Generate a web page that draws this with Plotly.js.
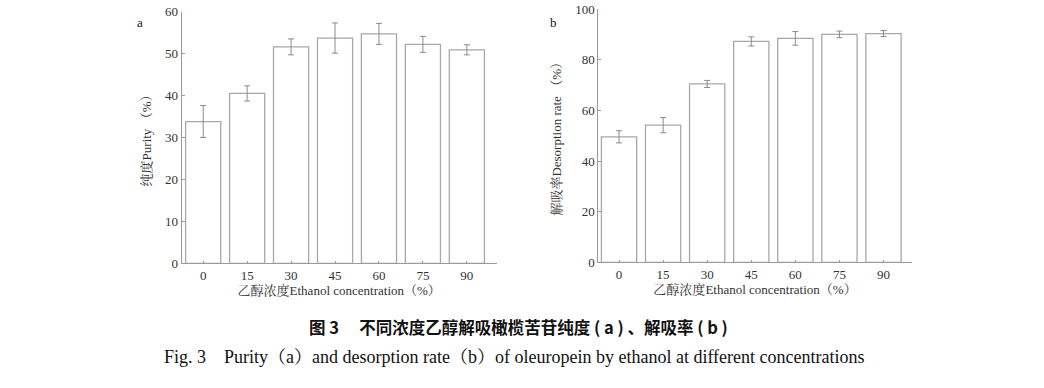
<!DOCTYPE html>
<html>
<head>
<meta charset="utf-8">
<script src="https://cdn.plot.ly/plotly-3.0.1.min.js"></script>
<style>html,body{margin:0;padding:0;background:#fff;}#chart{width:1044px;height:388px;}</style>
</head>
<body>
<div id="chart"></div>
<script>
const categories = ['0', '15', '30', '45', '60', '75', '90'];
const purity = [33.8, 40.5, 51.6, 53.7, 54.7, 52.2, 50.9];
const purityErr = [3.8, 1.8, 1.9, 3.6, 2.5, 1.9, 1.2];
const desorption = [49.6, 54.2, 70.5, 87.3, 88.5, 90.1, 90.4];
const desorptionErr = [2.4, 3.0, 1.4, 1.8, 2.7, 1.3, 1.2];

const FONT = 'Liberation Serif, Noto Serif CJK SC, Noto Sans CJK SC, serif';
const lineCol = '#9a9a9a';
const textCol = '#333333';

function barTrace(y, err, xa, ya) {
  return {
    type: 'bar', x: categories, y: y, xaxis: xa, yaxis: ya,
    width: 0.8,
    marker: {color: '#ffffff', line: {color: '#a8a8a8', width: 1.3}},
    error_y: {type: 'data', array: err, visible: true, color: '#8a8a8a', thickness: 1, width: 3},
    showlegend: false, hoverinfo: 'skip'
  };
}

const axisCommon = {
  showgrid: false, zeroline: false, showline: true, linecolor: lineCol, linewidth: 1,
  ticks: 'inside', ticklen: 3, tickcolor: lineCol,
  tickfont: {family: 'Liberation Serif, serif', size: 13, color: textCol}
};

const latin = s => '<span style="font-family:Liberation Serif">' + s + '</span>';
const xTitle = '乙醇浓度' + latin('Ethanol concentration') + '（%）';

const data = [
  barTrace(purity, purityErr, 'x', 'y'),
  barTrace(desorption, desorptionErr, 'x2', 'y2')
];

const layout = {
  width: 1044, height: 388,
  margin: {l: 0, r: 0, t: 0, b: 0},
  paper_bgcolor: '#ffffff', plot_bgcolor: '#ffffff',
  font: {family: FONT, color: textCol},
  xaxis: Object.assign({}, axisCommon, {
    domain: [0.174, 0.4758], anchor: 'y', type: 'category', range: [-0.49, 6.68],
    ticklen: 2,
    title: {text: xTitle, font: {family: FONT, size: 13, color: textCol}, standoff: 3}
  }),
  yaxis: Object.assign({}, axisCommon, {
    domain: [0.3214, 0.970], anchor: 'x', range: [0, 60], tickvals: [0, 10, 20, 30, 40, 50, 60],
    title: {text: '纯度' + latin('Purity') + ' （%）', font: {family: FONT, size: 13, color: textCol}, standoff: 10}
  }),
  xaxis2: Object.assign({}, axisCommon, {
    domain: [0.5731, 0.8733], anchor: 'y2', type: 'category', range: [-0.47, 6.64],
    ticklen: 2,
    title: {text: xTitle, font: {family: FONT, size: 13, color: textCol}, standoff: 3}
  }),
  yaxis2: Object.assign({}, axisCommon, {
    domain: [0.324, 0.976], anchor: 'x2', range: [0, 100], tickvals: [0, 20, 40, 60, 80, 100],
    title: {text: '解吸率' + latin('Desorption rate') + ' （%）', font: {family: FONT, size: 13, color: textCol}, standoff: 10}
  }),
  annotations: [
    {text: 'a', xref: 'paper', yref: 'paper', x: 140 / 1044, y: 1 - 22 / 388, showarrow: false,
     xanchor: 'center', yanchor: 'middle', font: {family: FONT, size: 13, color: '#111'}},
    {text: 'b', xref: 'paper', yref: 'paper', x: 553 / 1044, y: 1 - 22 / 388, showarrow: false,
     xanchor: 'center', yanchor: 'middle', font: {family: FONT, size: 13, color: '#111'}},
    {text: '<b>图 3　 不同浓度乙醇解吸橄榄苦苷纯度 ( a ) 、解吸率 ( b )</b>', xref: 'paper', yref: 'paper',
     x: 518 / 1044, y: 1 - 327 / 388, showarrow: false, xanchor: 'center', yanchor: 'middle',
     font: {family: 'Noto Sans CJK SC, sans-serif', size: 16.5, color: '#111'}},
    {text: 'Fig. 3　Purity（a）and desorption rate（b）of oleuropein by ethanol at different concentrations',
     xref: 'paper', yref: 'paper', x: 514 / 1044, y: 1 - 357 / 388, showarrow: false,
     xanchor: 'center', yanchor: 'middle', font: {family: FONT, size: 18, color: '#111'}}
  ]
};

Plotly.newPlot('chart', data, layout, {displayModeBar: false, staticPlot: true});
</script>
</body>
</html>
